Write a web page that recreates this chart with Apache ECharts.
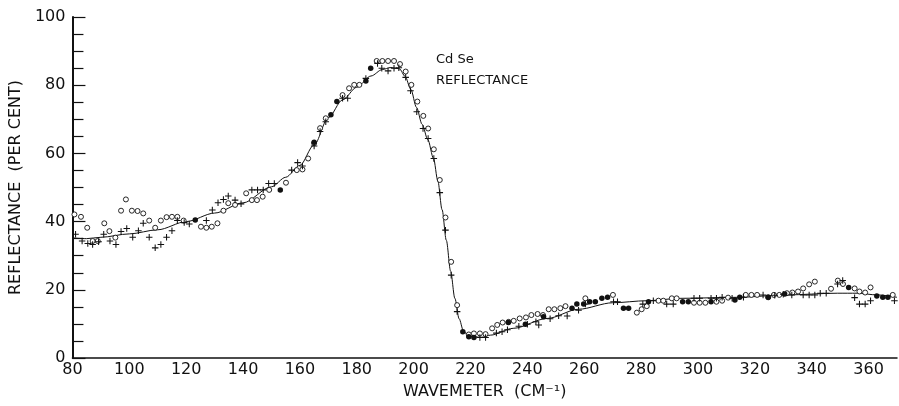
<!DOCTYPE html>
<html>
<head>
<meta charset="utf-8">
<script src="https://cdn.jsdelivr.net/npm/echarts@6/dist/echarts.min.js"></script>
<style>
html,body{margin:0;padding:0;background:#fff;}
#chart{width:899px;height:406px;}
</style>
</head>
<body>
<div id="chart"></div>
<script>
// Fitted curve (solid line)
var curveX = [80, 85, 90, 100, 110, 120, 130, 140, 150, 155, 160, 165, 170, 175, 180, 185, 189, 192, 195, 197, 199, 201, 203, 205, 207, 208.5, 210, 211.5, 213, 214.5, 216, 217.5, 219, 221, 224, 227, 235, 247, 258, 270, 282, 294, 314, 331, 349, 356, 363, 370];
var curveY = [35.2, 35.0, 35.4, 36.4, 37.6, 40.0, 42.5, 45.5, 50.2, 53.0, 56.5, 62.5, 70.5, 75.7, 79.4, 82.7, 84.6, 85.2, 84.8, 82.6, 78.8, 73.5, 68.5, 64.0, 58.5, 52.0, 43.5, 34.5, 25.5, 17.5, 11.5, 8.0, 6.7, 6.2, 6.1, 6.7, 8.7, 11.6, 14.3, 16.2, 16.8, 17.5, 17.8, 18.5, 19.0, 19.0, 18.5, 17.8];

// Open circles
var openX = [80.7, 83.0, 85.2, 87.1, 88.9, 91.2, 93, 95.1, 97.1, 98.8, 100.9, 102.9, 104.9, 107, 109.1, 111.1, 113.1, 115, 116.9, 119.1, 125.2, 127.1, 129, 131, 133.1, 134.8, 137.2, 141.1, 143.1, 144.9, 146.9, 149.2, 155.1, 158.9, 160.9, 162.9, 165, 167.1, 169.1, 175, 177.3, 179.1, 180.9, 187, 189, 191, 193.1, 195.2, 197.2, 199.2, 201.3, 203.4, 205.1, 207.1, 209.2, 211.2, 213.2, 215.3, 219.4, 221.2, 223.3, 225.3, 227.6, 229.4, 231.3, 233.4, 235.2, 237.3, 239.5, 241.4, 243.6, 245.5, 247.5, 249.5, 251.6, 253.4, 260.4, 270.1, 278.5, 280.2, 282, 286.1, 287.8, 290.8, 292.5, 298.6, 300.6, 302.6, 306.5, 308.5, 310.6, 316.8, 318.8, 320.8, 324.7, 326.7, 328.6, 331.3, 333.2, 335.2, 337, 339.1, 341.1, 346.8, 349.2, 351, 355.1, 356.8, 358.8, 360.7, 368.5];
var openY = [42.1, 41.4, 38.2, 34.3, 34.3, 39.5, 37.2, 35.3, 43.2, 46.5, 43.2, 43.1, 42.4, 40.3, 38.2, 40.3, 41.3, 41.4, 41.4, 40.3, 38.5, 38.2, 38.5, 39.5, 43.2, 45.4, 44.9, 48.3, 46.3, 46.3, 47.3, 49.3, 51.4, 55.1, 55.3, 58.5, 63.0, 67.4, 70.3, 77.1, 79.1, 80.1, 80.1, 87.1, 87.1, 87.1, 87.1, 86.2, 84.0, 80.1, 75.2, 71.0, 67.3, 61.2, 52.2, 41.2, 28.2, 15.5, 6.9, 7.2, 7.2, 7.0, 8.7, 9.7, 10.4, 10.6, 10.9, 11.6, 11.9, 12.6, 12.9, 12.6, 14.3, 14.3, 14.6, 15.2, 17.5, 18.5, 13.3, 14.3, 15.2, 16.8, 16.8, 17.5, 17.5, 16.2, 16.2, 16.2, 16.5, 16.8, 17.7, 18.5, 18.5, 18.5, 17.8, 18.5, 18.5, 19.0, 19.2, 19.5, 20.4, 21.6, 22.4, 20.3, 22.7, 21.7, 20.4, 19.5, 19.2, 20.7, 18.5];

// Filled circles
var filledX = [123.2, 153.1, 165, 170.9, 173, 183.2, 184.9, 217.3, 219.4, 221.2, 233.3, 239.3, 245.7, 255.7, 257.4, 259.8, 261.9, 263.9, 266.2, 268.2, 273.8, 275.6, 282.6, 294.6, 296.6, 304.6, 313, 314.7, 324.7, 330.5, 353, 362.9, 365, 366.8];
var filledY = [40.5, 49.3, 63.3, 71.3, 75.2, 81.2, 85.0, 7.7, 6.2, 6.0, 10.4, 9.9, 12.1, 14.6, 15.8, 15.8, 16.5, 16.5, 17.5, 17.8, 14.6, 14.6, 16.5, 16.5, 16.5, 16.5, 17.0, 17.8, 17.8, 18.8, 20.7, 18.2, 17.8, 17.8];

// Plus signs
var plusX = [81.1, 83.4, 85.4, 87.1, 89.2, 91, 93.2, 95.3, 97.1, 99.1, 101.2, 103.2, 104.9, 107, 109.1, 111.1, 113.1, 115, 116.9, 119.3, 121.1, 127.1, 129.2, 131.2, 133.1, 134.8, 137.2, 139.3, 143.1, 145.1, 147.1, 149, 151, 157.1, 159.2, 160.9, 165, 167.1, 169.1, 175, 176.8, 183.2, 187.3, 188.8, 191, 193.1, 194.8, 197.2, 198.9, 201.1, 203.3, 205.1, 207.1, 209.2, 211.2, 213.2, 215.3, 223.3, 225.3, 229.1, 231.1, 233, 237, 240, 243, 244, 248, 251, 254, 258, 260.4, 270.3, 271.7, 280.6, 284.3, 289, 291.3, 298.6, 300.6, 304.6, 306.5, 308.5, 312, 316, 322.9, 327, 330, 333, 337, 339.1, 341.1, 343, 345.1, 349.1, 350.9, 355.1, 356.8, 358.8, 360.7, 369.1];
var plusY = [36.3, 34.3, 33.6, 33.3, 34.1, 36.3, 34.3, 33.3, 37.1, 38.0, 35.4, 37.3, 39.5, 35.4, 32.3, 33.3, 35.4, 37.3, 40.3, 39.7, 39.3, 40.3, 43.4, 45.5, 46.5, 47.5, 46.3, 45.2, 49.3, 49.3, 49.3, 51.2, 51.2, 55.1, 57.3, 56.3, 62.2, 66.4, 69.3, 76.2, 76.2, 82.0, 86.4, 85.0, 84.2, 85.0, 85.1, 82.3, 78.4, 72.2, 67.3, 64.4, 58.5, 48.5, 37.5, 24.3, 13.6, 6.0, 6.0, 7.3, 7.7, 8.3, 9.3, 9.9, 10.6, 9.7, 11.5, 12.4, 12.3, 14.0, 15.8, 16.5, 16.5, 15.8, 16.8, 15.8, 15.8, 17.5, 17.5, 17.5, 17.5, 17.8, 17.5, 17.8, 18.5, 18.4, 18.7, 18.5, 18.5, 18.5, 18.5, 19.0, 19.0, 21.7, 22.7, 17.7, 15.8, 15.8, 16.8, 16.8];

var yTicks = [0, 20, 40, 60, 80, 100];

function zip(xs, ys) { return xs.map(function (x, i) { return [x, ys[i]]; }); }

var FONT = 'DejaVu Sans';
var INK = '#111';
var plusPath = 'path://M4.2,0h1.6v4.2h4.2v1.6h-4.2v4.2h-1.6v-4.2h-4.2v-1.6h4.2z';

var chart = echarts.init(document.getElementById('chart'), null, {renderer: 'canvas'});
chart.setOption({
  animation: false,
  backgroundColor: '#fff',
  title: [
    {text: 'Cd Se', left: 436, top: 53, padding: 0, textStyle: {fontFamily: FONT, fontSize: 13, fontWeight: 'normal', color: INK}},
    {text: 'REFLECTANCE', left: 436, top: 74, padding: 0, textStyle: {fontFamily: FONT, fontSize: 13, fontWeight: 'normal', color: INK}}
  ],
  grid: {left: 70, right: 2, top: 17, bottom: 48, containLabel: false},
  xAxis: {
    type: 'value', min: 80, max: 370, interval: 20,
    name: 'WAVEMETER  (CM\u207B\u00B9)', nameLocation: 'middle', nameGap: 26,
    nameTextStyle: {fontFamily: FONT, fontSize: 16, color: INK},
    axisLine: {show: true, onZero: false, lineStyle: {color: INK, width: 1.5}},
    axisTick: {show: false},
    splitLine: {show: false},
    axisLabel: {fontFamily: FONT, fontSize: 16, color: INK, margin: 4, showMaxLabel: false}
  },
  yAxis: {
    type: 'value', min: yTicks[0], max: yTicks[yTicks.length - 1], interval: 20,
    name: 'REFLECTANCE  (PER CENT)', nameLocation: 'middle', nameGap: 48, nameRotate: 90,
    nameTextStyle: {fontFamily: FONT, fontSize: 16, color: INK},
    axisLine: {show: true, lineStyle: {color: INK, width: 2}},
    axisTick: {show: true, inside: true, length: 13, lineStyle: {color: INK, width: 1.2}},
    minorTick: {show: true, splitNumber: 4, length: 11, lineStyle: {color: INK, width: 1.2}},
    splitLine: {show: false},
    axisLabel: {fontFamily: FONT, fontSize: 16, color: INK, margin: 7}
  },
  series: [
    {
      type: 'line', data: zip(curveX, curveY), smooth: 0.3, smoothMonotone: 'x',
      showSymbol: false, symbol: 'none', lineStyle: {color: INK, width: 1}, z: 1
    },
    {
      type: 'scatter', data: zip(openX, openY), symbol: 'circle', symbolSize: 5,
      itemStyle: {color: '#fff', borderColor: INK, borderWidth: 0.9, opacity: 1}, z: 2
    },
    {
      type: 'scatter', data: zip(filledX, filledY), symbol: 'circle', symbolSize: 5.5,
      itemStyle: {color: INK, opacity: 1}, z: 3
    },
    {
      type: 'scatter', data: zip(plusX, plusY), symbol: plusPath, symbolSize: 6.5,
      itemStyle: {color: INK, opacity: 1}, z: 4
    }
  ]
});
</script>
</body>
</html>
